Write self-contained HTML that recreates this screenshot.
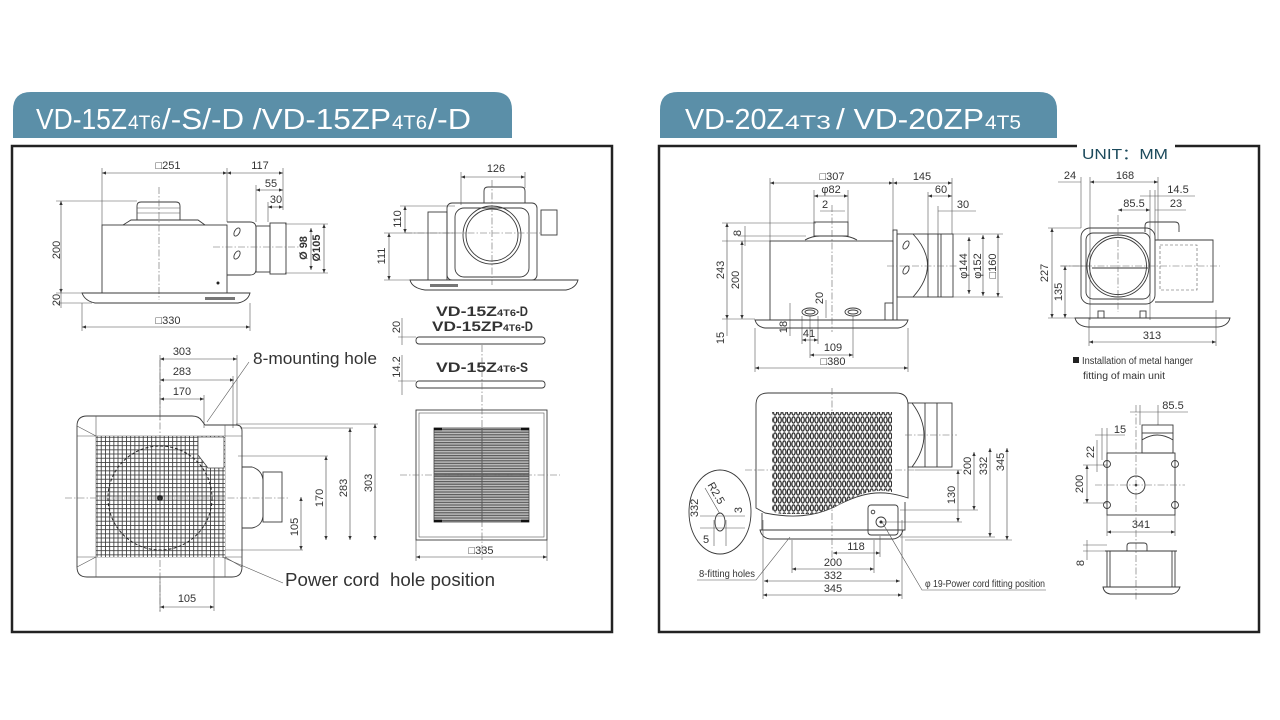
<!DOCTYPE html>
<html><head><meta charset="utf-8">
<style>
html,body{margin:0;padding:0;background:#fff;}
svg{display:block}
.l{stroke:#3a3a3a;stroke-width:.9;fill:none}
.t{stroke:#555;stroke-width:.6;fill:none}
.d{stroke:#444;stroke-width:.6;fill:none;marker-start:url(#a);marker-end:url(#a)}
.c{stroke:#666;stroke-width:.6;fill:none;stroke-dasharray:7 2 1.5 2}
text{font-family:"Liberation Sans","DejaVu Sans",sans-serif;fill:#333}
.n{font-size:11px}
.h{fill:#fff}
</style></head><body>
<svg width="1280" height="720" viewBox="0 0 1280 720">
<defs>
<marker id="a" viewBox="0 0 6 6" refX="6" refY="3" markerUnits="userSpaceOnUse" markerWidth="5" markerHeight="4" orient="auto-start-reverse"><path d="M0,0.5L6,3L0,5.5Z" fill="#333"/></marker>
<pattern id="grid" width="4.2" height="4.2" patternUnits="userSpaceOnUse"><rect width="4.2" height="4.2" fill="#fff"/><path d="M0,0H4.2M0,0V4.2" stroke="#3a3a3a" stroke-width="1.7"/></pattern>
<pattern id="hl" width="4" height="2.6" patternUnits="userSpaceOnUse"><rect width="4" height="2.6" fill="#bdbdbd"/><path d="M0,0.6H4" stroke="#555" stroke-width="1.1"/></pattern>
<pattern id="ov" width="4.6" height="8" patternUnits="userSpaceOnUse"><rect width="4.6" height="8" fill="#fff"/><ellipse cx="2.3" cy="4" rx="1.6" ry="3.1" stroke="#2a2a2a" stroke-width="1.2" fill="#fff"/></pattern>
<clipPath id="wave"><path d="M772,412H892V492C875,488 858,494 840,504C815,517 792,517 772,512Z"/></clipPath>
</defs>

<!-- Headers -->
<path d="M13,138V110Q13,92 31,92H494Q512,92 512,110V138Z" fill="#5b8fa8"/>
<path d="M660,138V110Q660,92 678,92H1039Q1057,92 1057,110V138Z" fill="#5b8fa8"/>
<text class="h" x="36" y="129" font-size="29" textLength="91" lengthAdjust="spacingAndGlyphs">VD-15Z</text>
<text class="h" x="128" y="129" font-size="19" textLength="33" lengthAdjust="spacingAndGlyphs">4T6</text>
<text class="h" x="162" y="129" font-size="29" textLength="229" lengthAdjust="spacingAndGlyphs">/-S/-D /VD-15ZP</text>
<text class="h" x="392" y="129" font-size="19" textLength="35" lengthAdjust="spacingAndGlyphs">4T6</text>
<text class="h" x="428" y="129" font-size="29" textLength="43" lengthAdjust="spacingAndGlyphs">/-D</text>
<text class="h" x="685" y="129" font-size="29" textLength="99" lengthAdjust="spacingAndGlyphs">VD-20Z</text>
<text class="h" x="785" y="129" font-size="19" textLength="46" lengthAdjust="spacingAndGlyphs">4T3</text>
<text class="h" x="836" y="129" font-size="29" textLength="148" lengthAdjust="spacingAndGlyphs">/ VD-20ZP</text>
<text class="h" x="985" y="129" font-size="19" textLength="36" lengthAdjust="spacingAndGlyphs">4T5</text>

<!-- Boxes -->
<rect x="12" y="146" width="600" height="486" fill="none" stroke="#222" stroke-width="2.5"/>
<path d="M1077,146H659V632H1259V146H1175" fill="none" stroke="#222" stroke-width="2.5"/>
<text x="1082" y="159" font-size="15" style="fill:#1c4a5c" textLength="86" lengthAdjust="spacingAndGlyphs">UNIT：MM</text>

<!-- ===== Drawing A ===== -->
<path class="t" d="M102,168V225M227,168V222M283,168V210M256,185V222M268,202V222M56,201H137M56,293H82M56,303H92M82,303V331M250,303V331M285,224H328M285,273H328"/>
<line class="d" x1="102" y1="173" x2="227" y2="173"/>
<line class="d" x1="227" y1="173" x2="283" y2="173"/>
<line class="d" x1="256" y1="190" x2="283" y2="190"/>
<line class="d" x1="268" y1="207" x2="283" y2="207"/>
<line class="d" x1="61" y1="201" x2="61" y2="293"/>
<line class="t" x1="61" y1="288" x2="61" y2="308"/>
<line class="d" x1="82" y1="327" x2="250" y2="327"/>
<line class="d" x1="311" y1="228" x2="311" y2="270"/>
<line class="d" x1="324" y1="224" x2="324" y2="273"/>
<text class="n" x="168" y="169" text-anchor="middle">□251</text>
<text class="n" x="260" y="169" text-anchor="middle">117</text>
<text class="n" x="271" y="187" text-anchor="middle">55</text>
<text class="n" x="276" y="203" text-anchor="middle">30</text>
<text class="n" transform="translate(60,250) rotate(-90)" text-anchor="middle">200</text>
<text class="n" transform="translate(60,300) rotate(-90)" text-anchor="middle">20</text>
<text class="n" x="168" y="324" text-anchor="middle">□330</text>
<text class="n" transform="translate(307,248) rotate(-90)" text-anchor="middle" font-weight="bold">Ø 98</text>
<text class="n" transform="translate(320,248) rotate(-90)" text-anchor="middle" font-weight="bold">Ø105</text>
<path class="l" d="M137,220V206Q137,202 141,202H176Q180,202 180,206V220Z" fill="#f0f0f0"/>
<path class="t" d="M137,208H180M137,213H180"/>
<path class="l" d="M123,225L131,220H198L205,225"/>
<rect class="l" x="102" y="225" width="125" height="68"/>
<circle cx="218" cy="283" r="1.5" fill="#222"/>
<path class="l" d="M227,222H250Q256,222 256,228V269Q256,275 250,275H227"/>
<ellipse class="l" cx="237" cy="232" rx="2.5" ry="4.5" transform="rotate(30 237 232)"/>
<ellipse class="l" cx="237" cy="255" rx="2.5" ry="4.5" transform="rotate(30 237 255)"/>
<rect class="l" x="256" y="226" width="14" height="46"/>
<rect class="l" x="270" y="223" width="16" height="51"/>
<path class="c" d="M213,247H302M159,187V300"/>
<path class="l" d="M82,293H250Q248,301 238,303H95Q85,301 82,293Z" fill="#e4e4e4"/>
<rect x="205" y="297" width="30" height="3" fill="#777"/>

<!-- ===== Drawing B ===== -->
<path class="t" d="M461,172V205M525,172V188M400,206H455M384,233H455M384,280H410"/>
<line class="d" x1="461" y1="177" x2="525" y2="177"/>
<line class="d" x1="405" y1="206" x2="405" y2="233"/>
<line class="d" x1="389" y1="233" x2="389" y2="280"/>
<text class="n" x="496" y="172" text-anchor="middle">126</text>
<text class="n" transform="translate(401,219) rotate(-90)" text-anchor="middle">110</text>
<text class="n" transform="translate(385,256) rotate(-90)" text-anchor="middle">111</text>
<path class="l" d="M484,203V191Q484,187 488,187H521Q525,187 525,191V203"/>
<rect class="l" x="428" y="212" width="19" height="68"/>
<rect class="l" x="447" y="203" width="90" height="77" rx="5"/>
<rect class="l" x="455" y="208" width="74" height="69" rx="9"/>
<rect class="l" x="541" y="210" width="16" height="25"/>
<circle class="l" cx="492" cy="235" r="29"/>
<circle class="l" cx="492" cy="235" r="26"/>
<path class="c" d="M405,233H540M492,180V285"/>
<path class="l" d="M410,280H578Q576,288 566,290H425Q412,288 410,280Z" fill="#e4e4e4"/>
<rect x="430" y="284" width="28" height="3" fill="#777"/>

<text x="436" y="316" font-size="14" font-weight="bold" fill="#222" textLength="61" lengthAdjust="spacingAndGlyphs">VD-15Z</text>
<text x="497" y="316" font-size="9.5" font-weight="bold" fill="#222" textLength="19" lengthAdjust="spacingAndGlyphs">4T6</text>
<text x="516" y="316" font-size="14" font-weight="bold" fill="#222" textLength="12" lengthAdjust="spacingAndGlyphs">-D</text>
<text x="432" y="331" font-size="14" font-weight="bold" fill="#222" textLength="71" lengthAdjust="spacingAndGlyphs">VD-15ZP</text>
<text x="503" y="331" font-size="9.5" font-weight="bold" fill="#222" textLength="18" lengthAdjust="spacingAndGlyphs">4T6</text>
<text x="521" y="331" font-size="14" font-weight="bold" fill="#222" textLength="12" lengthAdjust="spacingAndGlyphs">-D</text>
<path class="t" d="M402,318V345M398,337H416M402,355V395M398,381H416"/>
<text class="n" transform="translate(400,327) rotate(-90)" text-anchor="middle" font-size="10">20</text>
<text class="n" transform="translate(400,367) rotate(-90)" text-anchor="middle" font-size="10">14.2</text>
<rect class="l" x="416" y="337" width="129" height="7" rx="3" fill="#eee"/>
<text x="436" y="372" font-size="14" font-weight="bold" fill="#222" textLength="61" lengthAdjust="spacingAndGlyphs">VD-15Z</text>
<text x="497" y="372" font-size="9.5" font-weight="bold" fill="#222" textLength="19" lengthAdjust="spacingAndGlyphs">4T6</text>
<text x="516" y="372" font-size="14" font-weight="bold" fill="#222" textLength="12" lengthAdjust="spacingAndGlyphs">-S</text>
<rect class="l" x="416" y="381" width="129" height="7" rx="3" fill="#eee"/>
<rect class="l" x="416" y="410" width="131" height="130"/>
<rect class="t" x="419" y="413" width="125" height="124"/>
<rect x="434" y="428" width="95" height="94" fill="url(#hl)" stroke="#444" stroke-width=".8"/>
<path d="M482,428V522M434,475H529" stroke="#555" stroke-width="1"/>
<path d="M434,429h8M521,429h8M434,521h8M521,521h8" stroke="#111" stroke-width="2.5"/>
<path class="c" d="M482,345V560M400,475H560"/>
<path class="t" d="M416,540V561M547,540V561"/>
<line class="d" x1="416" y1="557" x2="547" y2="557"/>
<text class="n" x="481" y="554" text-anchor="middle" font-size="10">□335</text>

<!-- ===== Drawing C ===== -->
<path class="t" d="M160,355V420M237,355V425M233,376V428M204,395V428M236,424H378M240,428H353M238,456H328M217,550H303M214,540V611M160,577V611"/>
<line class="d" x1="160" y1="359" x2="237" y2="359"/>
<line class="d" x1="160" y1="380" x2="234" y2="380"/>
<line class="d" x1="160" y1="399" x2="204" y2="399"/>
<line class="d" x1="375" y1="424" x2="375" y2="540"/>
<line class="d" x1="350" y1="428" x2="350" y2="540"/>
<line class="d" x1="326" y1="456" x2="326" y2="540"/>
<line class="d" x1="301" y1="497" x2="301" y2="550"/>
<line class="d" x1="160" y1="607" x2="214" y2="607"/>
<text class="n" x="182" y="355" text-anchor="middle">303</text>
<text class="n" x="182" y="375" text-anchor="middle">283</text>
<text class="n" x="182" y="395" text-anchor="middle">170</text>
<text class="n" transform="translate(298,527) rotate(-90)" text-anchor="middle">105</text>
<text class="n" transform="translate(323,498) rotate(-90)" text-anchor="middle">170</text>
<text class="n" transform="translate(347,488) rotate(-90)" text-anchor="middle">283</text>
<text class="n" transform="translate(372,483) rotate(-90)" text-anchor="middle">303</text>
<text class="n" x="187" y="602" text-anchor="middle">105</text>
<text x="253" y="364" font-size="17" fill="#222" textLength="124" lengthAdjust="spacingAndGlyphs">8-mounting hole</text>
<text x="285" y="586" font-size="18" fill="#222" textLength="210" lengthAdjust="spacingAndGlyphs">Power cord&#160; hole position</text>
<path class="t" d="M249,362L207,422M283,583L222,557"/>
<path class="l" d="M77,426Q77,416 87,416H192Q199,416 202,421L205,425H236Q242,425 242,431V567Q242,577 232,577H87Q77,577 77,567Z"/>
<path class="t" d="M96,416V577M225,425V577M77,436H242M77,557H242M77,426L96,436M242,567L225,557M77,567L96,557"/>
<rect x="96" y="436" width="129" height="121" fill="url(#grid)"/>
<path d="M198,437H224V468H208L198,455Z" fill="#fff" stroke="#444" stroke-width=".8"/>
<circle cx="160" cy="498" r="52" fill="none" stroke="#222" stroke-width="1" stroke-dasharray="3 2"/>
<circle cx="160" cy="498" r="3" fill="#222"/>
<path class="l" d="M242,467H252Q262,470 263,480V516Q262,526 252,528H242"/>
<rect class="l" x="263" y="472" width="19" height="50"/>
<path class="c" d="M65,498H290M160,360V612"/>

<!-- ===== Drawing D ===== -->
<path class="t" d="M770,178V241M893,178V232M952,178V234M928,192V234M938,206V234M814,190V222M848,190V222M722,223H816M738,236H806M722,241H770M722,319H755M953,234H1003M953,297H1003M755,328V372M908,328V372M810,316V358M853,316V358M802,316V344M818,316V344"/>
<line class="d" x1="770" y1="183" x2="893" y2="183"/>
<line class="d" x1="893" y1="183" x2="952" y2="183"/>
<line class="d" x1="814" y1="196" x2="848" y2="196"/>
<line class="d" x1="928" y1="196" x2="952" y2="196"/>
<line class="t" x1="820" y1="211" x2="845" y2="211"/>
<line class="t" x1="938" y1="211" x2="976" y2="211"/>
<line class="d" x1="727" y1="223" x2="727" y2="319"/>
<line class="d" x1="742" y1="241" x2="742" y2="319"/>
<line class="t" x1="745" y1="226" x2="745" y2="246"/>
<line class="t" x1="727" y1="319" x2="727" y2="336"/>
<line class="d" x1="969" y1="237" x2="969" y2="294"/>
<line class="d" x1="983" y1="235" x2="983" y2="296"/>
<line class="d" x1="998" y1="234" x2="998" y2="297"/>
<line class="t" x1="826" y1="300" x2="826" y2="318"/>
<line class="t" x1="790" y1="303" x2="790" y2="336"/>
<line class="d" x1="802" y1="340" x2="818" y2="340"/>
<line class="d" x1="810" y1="355" x2="853" y2="355"/>
<line class="d" x1="755" y1="368" x2="908" y2="368"/>
<text class="n" x="832" y="180" text-anchor="middle">□307</text>
<text class="n" x="922" y="180" text-anchor="middle">145</text>
<text class="n" x="831" y="193" text-anchor="middle">φ82</text>
<text class="n" x="941" y="193" text-anchor="middle">60</text>
<text class="n" x="825" y="208" text-anchor="middle">2</text>
<text class="n" x="963" y="208" text-anchor="middle">30</text>
<text class="n" transform="translate(741,233) rotate(-90)" text-anchor="middle" font-size="9">8</text>
<text class="n" transform="translate(724,270) rotate(-90)" text-anchor="middle">243</text>
<text class="n" transform="translate(739,280) rotate(-90)" text-anchor="middle">200</text>
<text class="n" transform="translate(823,298) rotate(-90)" text-anchor="middle">20</text>
<text class="n" transform="translate(787,327) rotate(-90)" text-anchor="middle">18</text>
<text class="n" transform="translate(724,338) rotate(-90)" text-anchor="middle">15</text>
<text class="n" x="809" y="337" text-anchor="middle">41</text>
<text class="n" x="833" y="351" text-anchor="middle">109</text>
<text class="n" x="833" y="365" text-anchor="middle">□380</text>
<text class="n" transform="translate(967,266) rotate(-90)" text-anchor="middle">φ144</text>
<text class="n" transform="translate(981,266) rotate(-90)" text-anchor="middle">φ152</text>
<text class="n" transform="translate(996,266) rotate(-90)" text-anchor="middle">□160</text>
<rect class="l" x="814" y="222" width="34" height="14"/>
<path class="l" d="M805,240Q812,236 820,236H842Q850,236 857,240"/>
<rect class="l" x="770" y="241" width="123" height="79"/>
<rect class="l" x="893" y="230" width="4" height="90"/>
<rect class="l" x="885" y="303" width="8" height="17"/>
<rect class="l" x="897" y="234" width="56" height="63"/>
<path class="l" d="M913,234Q942,265 913,297M928,234V297M938,234V297M941,234V297"/>
<ellipse class="l" cx="906" cy="245" rx="2.5" ry="4.5" transform="rotate(30 906 245)"/>
<ellipse class="l" cx="906" cy="270" rx="2.5" ry="4.5" transform="rotate(30 906 270)"/>
<path class="l" d="M755,320H908Q906,327 898,328H765Q757,327 755,320Z" fill="#ddd"/>
<ellipse class="l" cx="810" cy="312" rx="8" ry="4"/>
<ellipse class="l" cx="810" cy="312" rx="5" ry="2"/>
<ellipse class="l" cx="853" cy="312" rx="8" ry="4"/>
<ellipse class="l" cx="853" cy="312" rx="5" ry="2"/>
<path class="c" d="M832,205V332M887,266H957"/>

<!-- ===== Drawing E ===== -->
<path class="t" d="M1081,177V228M1090,177V320M1158,177V240M1150,190V320M1155,190V240M1048,228H1081M1048,318H1075M1061,266H1090M1089,318V346M1216,310V346"/>
<line class="t" x1="1058" y1="182" x2="1081" y2="182"/>
<line class="d" x1="1090" y1="182" x2="1158" y2="182"/>
<line class="t" x1="1140" y1="196" x2="1195" y2="196"/>
<line class="d" x1="1118" y1="210" x2="1150" y2="210"/>
<line class="t" x1="1155" y1="210" x2="1186" y2="210"/>
<line class="d" x1="1052" y1="228" x2="1052" y2="318"/>
<line class="d" x1="1065" y1="266" x2="1065" y2="318"/>
<line class="d" x1="1089" y1="342" x2="1216" y2="342"/>
<text class="n" x="1070" y="179" text-anchor="middle">24</text>
<text class="n" x="1125" y="179" text-anchor="middle">168</text>
<text class="n" x="1178" y="193" text-anchor="middle">14.5</text>
<text class="n" x="1134" y="207" text-anchor="middle">85.5</text>
<text class="n" x="1176" y="207" text-anchor="middle">23</text>
<text class="n" transform="translate(1048,273) rotate(-90)" text-anchor="middle">227</text>
<text class="n" transform="translate(1062,292) rotate(-90)" text-anchor="middle">135</text>
<text class="n" x="1152" y="339" text-anchor="middle">313</text>
<path class="l" d="M1145,232V226Q1145,222 1149,222H1175Q1179,222 1179,226V232"/>
<path class="l" d="M1155,240H1213V302H1155"/>
<rect class="t" x="1160" y="245" width="37" height="45" stroke-dasharray="3 2"/>
<rect class="l" x="1081" y="228" width="74" height="76" rx="9" fill="#fff"/>
<rect class="l" x="1086" y="233" width="64" height="66" rx="7"/>
<circle class="l" cx="1118" cy="266" r="31"/>
<circle class="l" cx="1118" cy="266" r="28.5"/>
<line class="l" x1="1092" y1="268" x2="1148" y2="268"/>
<path class="c" d="M1060,266H1220M1118,215V312"/>
<path class="l" d="M1075,318H1230Q1228,326 1218,327H1088Q1077,326 1075,318Z" fill="#ddd"/>
<rect class="l" x="1098" y="311" width="6" height="7"/>
<rect class="l" x="1140" y="311" width="6" height="7"/>
<rect x="1073" y="357" width="6" height="6" fill="#222"/>
<text x="1082" y="364" font-size="10" fill="#333" textLength="111" lengthAdjust="spacingAndGlyphs">Installation of metal hanger</text>
<text x="1083" y="379" font-size="10" fill="#333" textLength="82" lengthAdjust="spacingAndGlyphs">fitting of main unit</text>

<!-- ===== Drawing F ===== -->
<path class="l" d="M756,405Q756,393 768,393H896Q908,393 908,405V498C880,488 860,494 840,504C815,518 790,518 765,513L756,508Z"/>
<rect x="772" y="412" width="120" height="102" fill="url(#ov)" clip-path="url(#wave)"/>
<path class="l" d="M762,513V530H905V502"/>
<path class="l" d="M760,530H903Q901,538 893,539H770Q762,538 760,530Z" fill="#eee"/>
<rect class="l" x="868" y="505" width="30" height="30" rx="3"/>
<circle class="l" cx="881" cy="522" r="5"/>
<circle cx="881" cy="522" r="1.5" fill="#222"/>
<circle class="l" cx="873" cy="512" r="1.8"/>
<rect class="l" x="908" y="403" width="44" height="64"/>
<path class="l" d="M912,403Q936,435 912,467M925,403V467M937,403V467"/>
<path class="c" d="M832,388V560M745,470H915M905,435H957"/>
<path class="t" d="M915,470H962M880,522H962M900,510H978M900,537H995M905,540H1012"/>
<line class="d" x1="958" y1="470" x2="958" y2="522"/>
<line class="d" x1="974" y1="452" x2="974" y2="510"/>
<line class="d" x1="990" y1="448" x2="990" y2="537"/>
<line class="d" x1="1007" y1="448" x2="1007" y2="540"/>
<text class="n" transform="translate(955,495) rotate(-90)" text-anchor="middle">130</text>
<text class="n" transform="translate(971,466) rotate(-90)" text-anchor="middle">200</text>
<text class="n" transform="translate(987,466) rotate(-90)" text-anchor="middle">332</text>
<text class="n" transform="translate(1004,462) rotate(-90)" text-anchor="middle">345</text>
<path class="t" d="M763,520V599M902,520V599M792,540V573M874,540V573M880,536V557"/>
<line class="d" x1="833" y1="553" x2="880" y2="553"/>
<line class="d" x1="792" y1="569" x2="874" y2="569"/>
<line class="d" x1="764" y1="581" x2="900" y2="581"/>
<line class="d" x1="763" y1="595" x2="902" y2="595"/>
<text class="n" x="856" y="550" text-anchor="middle">118</text>
<text class="n" x="833" y="566" text-anchor="middle">200</text>
<text class="n" x="833" y="579" text-anchor="middle">332</text>
<text class="n" x="833" y="592" text-anchor="middle">345</text>
<ellipse class="l" cx="720" cy="512" rx="31" ry="42"/>
<ellipse class="l" cx="720" cy="522" rx="5" ry="9"/>
<path class="t" d="M700,516H745M700,528H745M714,520V546M726,520V546M705,488L720,514"/>
<text class="n" transform="translate(698,508) rotate(-90)" text-anchor="middle" font-size="10">332</text>
<text class="n" transform="translate(713,495) rotate(60)" text-anchor="middle" font-size="10">R2.5</text>
<text class="n" transform="translate(742,510) rotate(-90)" text-anchor="middle" font-size="10">3</text>
<text class="n" x="706" y="543" text-anchor="middle" font-size="10">5</text>
<text x="699" y="577" font-size="10" fill="#333" textLength="56" lengthAdjust="spacingAndGlyphs">8-fitting holes</text>
<path class="t" d="M697,580H756L790,537"/>
<text x="925" y="587" font-size="10" fill="#333" textLength="120" lengthAdjust="spacingAndGlyphs">φ 19-Power cord fitting position</text>
<path class="t" d="M882,522L922,590H1046"/>

<!-- ===== Drawing G ===== -->
<path class="t" d="M1140,405V425M1158,405V425M1083,465H1107M1083,503H1107M1107,515V536M1175,515V536M1083,545H1107M1083,551H1105M1102,428V460M1107,428V460"/>
<line class="t" x1="1130" y1="412" x2="1188" y2="412"/>
<line class="t" x1="1095" y1="435" x2="1125" y2="435"/>
<line class="t" x1="1097" y1="440" x2="1097" y2="472"/>
<line class="d" x1="1087" y1="465" x2="1087" y2="503"/>
<line class="d" x1="1107" y1="532" x2="1175" y2="532"/>
<line class="t" x1="1087" y1="540" x2="1087" y2="560"/>
<text class="n" x="1173" y="409" text-anchor="middle">85.5</text>
<text class="n" x="1120" y="433" text-anchor="middle">15</text>
<text class="n" transform="translate(1094,452) rotate(-90)" text-anchor="middle">22</text>
<text class="n" transform="translate(1083,484) rotate(-90)" text-anchor="middle">200</text>
<text class="n" x="1141" y="528" text-anchor="middle">341</text>
<text class="n" transform="translate(1084,563) rotate(-90)" text-anchor="middle">8</text>
<rect class="l" x="1142" y="425" width="31" height="8"/>
<path class="l" d="M1142,433V453H1173V433M1142,440Q1157,430 1173,440"/>
<rect class="l" x="1107" y="453" width="68" height="62"/>
<circle class="l" cx="1107" cy="464" r="3.5"/>
<circle class="l" cx="1175" cy="464" r="3.5"/>
<circle class="l" cx="1107" cy="505" r="3.5"/>
<circle class="l" cx="1175" cy="505" r="3.5"/>
<circle class="l" cx="1136" cy="485" r="9"/>
<circle cx="1136" cy="485" r="1.3" fill="#222"/>
<path class="c" d="M1095,485H1185M1136,405V600"/>
<path class="l" d="M1127,551V546Q1127,543 1130,543H1144Q1147,543 1147,546V551"/>
<path class="l" d="M1105,551H1177M1107,551V587M1110,551V587M1172,551V587M1175,551V587"/>
<path class="l" d="M1103,587H1180Q1178,593 1172,594H1110Q1104,593 1103,587Z" fill="#ddd"/>
</svg>
</body></html>
